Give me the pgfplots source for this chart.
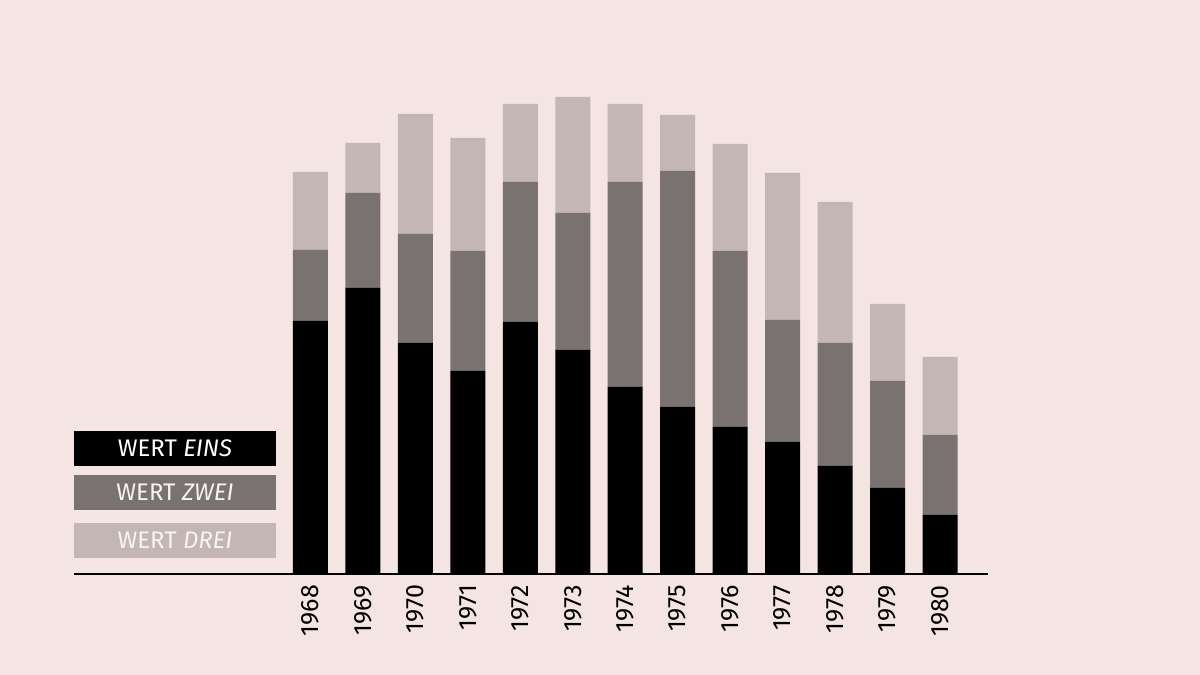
\documentclass[border=0pt]{standalone}
\usepackage{pgfplots}
\pgfplotsset{compat=1.18}
\usepackage{fontspec}
\setmainfont{Fira Sans}
\definecolor{bg}{HTML}{F4E5E2}
\definecolor{cone}{HTML}{000000}
\definecolor{ctwo}{HTML}{7A7270}
\definecolor{cthree}{HTML}{C4B6B3}
\begin{document}
\begin{tikzpicture}[x=0.5pt,y=0.5pt]
\fill[bg] (0,0) rectangle (1200,675);
\useasboundingbox (0,0) rectangle (1200,675);
% legend boxes
\fill[cone] (74,675-466) rectangle (276,675-431);
\fill[ctwo] (74,675-510) rectangle (276,675-475);
\fill[cthree] (74,675-558) rectangle (276,675-523);
\node[text=white, font=\fontsize{12}{14}\selectfont] at (175,675-448.5) {WERT \textit{EINS}};
\node[text=white!92!ctwo, font=\fontsize{12}{14}\selectfont] at (175,675-492.5) {WERT \textit{ZWEI}};
\node[text=white!85!cthree, font=\fontsize{12}{14}\selectfont] at (175,675-540.5) {WERT \textit{DREI}};
\begin{axis}[
  at={(37pt,50.5pt)}, anchor=south west,
  scale only axis, width=457pt, height=250pt,
  xmin=-4.508, xmax=12.915, ymin=0, ymax=500,
  ybar stacked, bar width=17.5pt,
  axis x line*=bottom, axis y line=none,
  x axis line style={line width=1pt, -},
  xtick={0,...,12},
  xticklabels={1968,1969,1970,1971,1972,1973,1974,1975,1976,1977,1978,1979,1980},
  xticklabel style={rotate=90, anchor=east, font=\fontsize{12.5}{14}\selectfont, xshift=-2pt},
  /pgf/number format/assume math mode=true,
  major tick length=0pt,
  tick style={draw=none},
  clip=false,
]
\addplot[fill=cone, draw=none] coordinates {(0,253)(1,286)(2,231)(3,203)(4,252)(5,224)(6,187)(7,167)(8,147)(9,132)(10,108)(11,86)(12,59)};
\addplot[fill=ctwo, draw=none] coordinates {(0,71)(1,95)(2,109)(3,120)(4,140)(5,137)(6,205)(7,236)(8,176)(9,122)(10,123)(11,107)(12,80)};
\addplot[fill=cthree, draw=none] coordinates {(0,78)(1,50)(2,120)(3,113)(4,78)(5,116)(6,78)(7,56)(8,107)(9,147)(10,141)(11,77)(12,78)};
\end{axis}
\end{tikzpicture}
\end{document}
